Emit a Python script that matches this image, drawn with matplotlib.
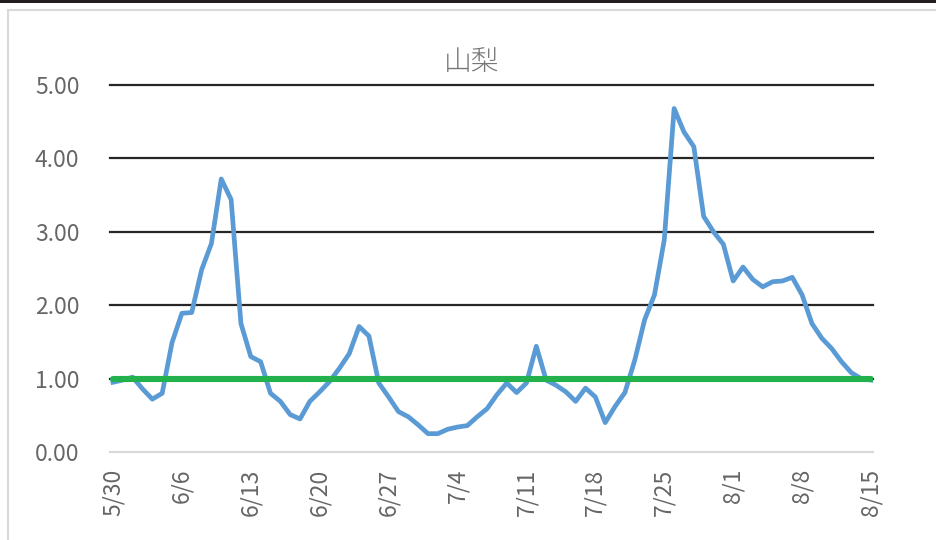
import matplotlib
matplotlib.use("Agg")
import matplotlib.pyplot as plt
from matplotlib.patches import Rectangle
import numpy as np
import pandas as pd

plt.rcParams['font.family'] = ['Noto Sans CJK JP', 'DejaVu Sans']

# --- data ---
title = '山梨'
dates = pd.date_range('2020-05-30', '2020-08-15', freq='D')
values = [
    0.95, 0.98, 1.02, 0.86, 0.72, 0.80, 1.49, 1.89, 1.90, 2.48,
    2.84, 3.72, 3.44, 1.75, 1.30, 1.23, 0.80, 0.69, 0.51, 0.45,
    0.69, 0.82, 0.96, 1.14, 1.34, 1.71, 1.58, 0.94, 0.75, 0.55,
    0.48, 0.37, 0.25, 0.25, 0.31, 0.34, 0.36, 0.48, 0.59, 0.78,
    0.94, 0.81, 0.94, 1.44, 0.98, 0.91, 0.82, 0.69, 0.87, 0.75,
    0.40, 0.62, 0.81, 1.25, 1.80, 2.14, 2.89, 4.68, 4.36, 4.16,
    3.21, 3.00, 2.83, 2.33, 2.52, 2.35, 2.25, 2.32, 2.33, 2.38,
    2.14, 1.75, 1.55, 1.41, 1.23, 1.08, 1.00, 0.98,
]
threshold = 1.0
y_ticks = [0, 1, 2, 3, 4, 5]

x = np.arange(len(values))
tick_pos = x[::7]
tick_labels = [f'{d.month}/{d.day}' for d in dates[::7]]

# --- figure ---
fig = plt.figure(figsize=(9.36, 5.4), dpi=100)
ax = fig.add_axes([110 / 936, 1 - 452 / 540, (873 - 110) / 936, (452 - 85) / 540])

# chart frame and the dark band at the top
fig.add_artist(Rectangle((8 / 936, -0.1), 1.1, (530 / 540) + 0.1, transform=fig.transFigure,
                         facecolor='none', edgecolor='#d9d9d9', lw=1.5))
fig.add_artist(Rectangle((0, 1 - 3 / 540), 1, 3 / 540, transform=fig.transFigure,
                         facecolor='#231f20', edgecolor='none'))

for yv in y_ticks[1:]:
    ax.axhline(yv, color='#262626', lw=1.6, zorder=1, clip_on=False)

ax.plot(x, values, color='#5b9bd5', lw=3.4, solid_joinstyle='round', zorder=3)
ax.plot([x[0], x[-1]], [threshold, threshold], color='#23b14d', lw=4.4,
        solid_capstyle='round', zorder=4)

ax.set_xlim(-0.3, 77.2)
ax.set_ylim(0, 5)
ax.set_yticks(y_ticks)
ax.set_yticklabels([f'{v:.2f}' for v in y_ticks])
ax.set_xticks(tick_pos)
ax.set_xticklabels(tick_labels, rotation=90)
ax.tick_params(axis='y', length=0, pad=22, labelsize=16.5, labelcolor='#666666')
ax.tick_params(axis='x', length=0, pad=12, labelsize=16.5, labelcolor='#666666')

for s in ['top', 'right', 'left']:
    ax.spines[s].set_visible(False)
ax.spines['bottom'].set_color('#d9d9d9')
ax.spines['bottom'].set_linewidth(1.5)

fig.text(472 / 936, 1 - 62 / 540, title, ha='center', va='center', fontsize=20,
         fontweight='light', color='#767676')

fig.savefig('out.png', dpi=100)
